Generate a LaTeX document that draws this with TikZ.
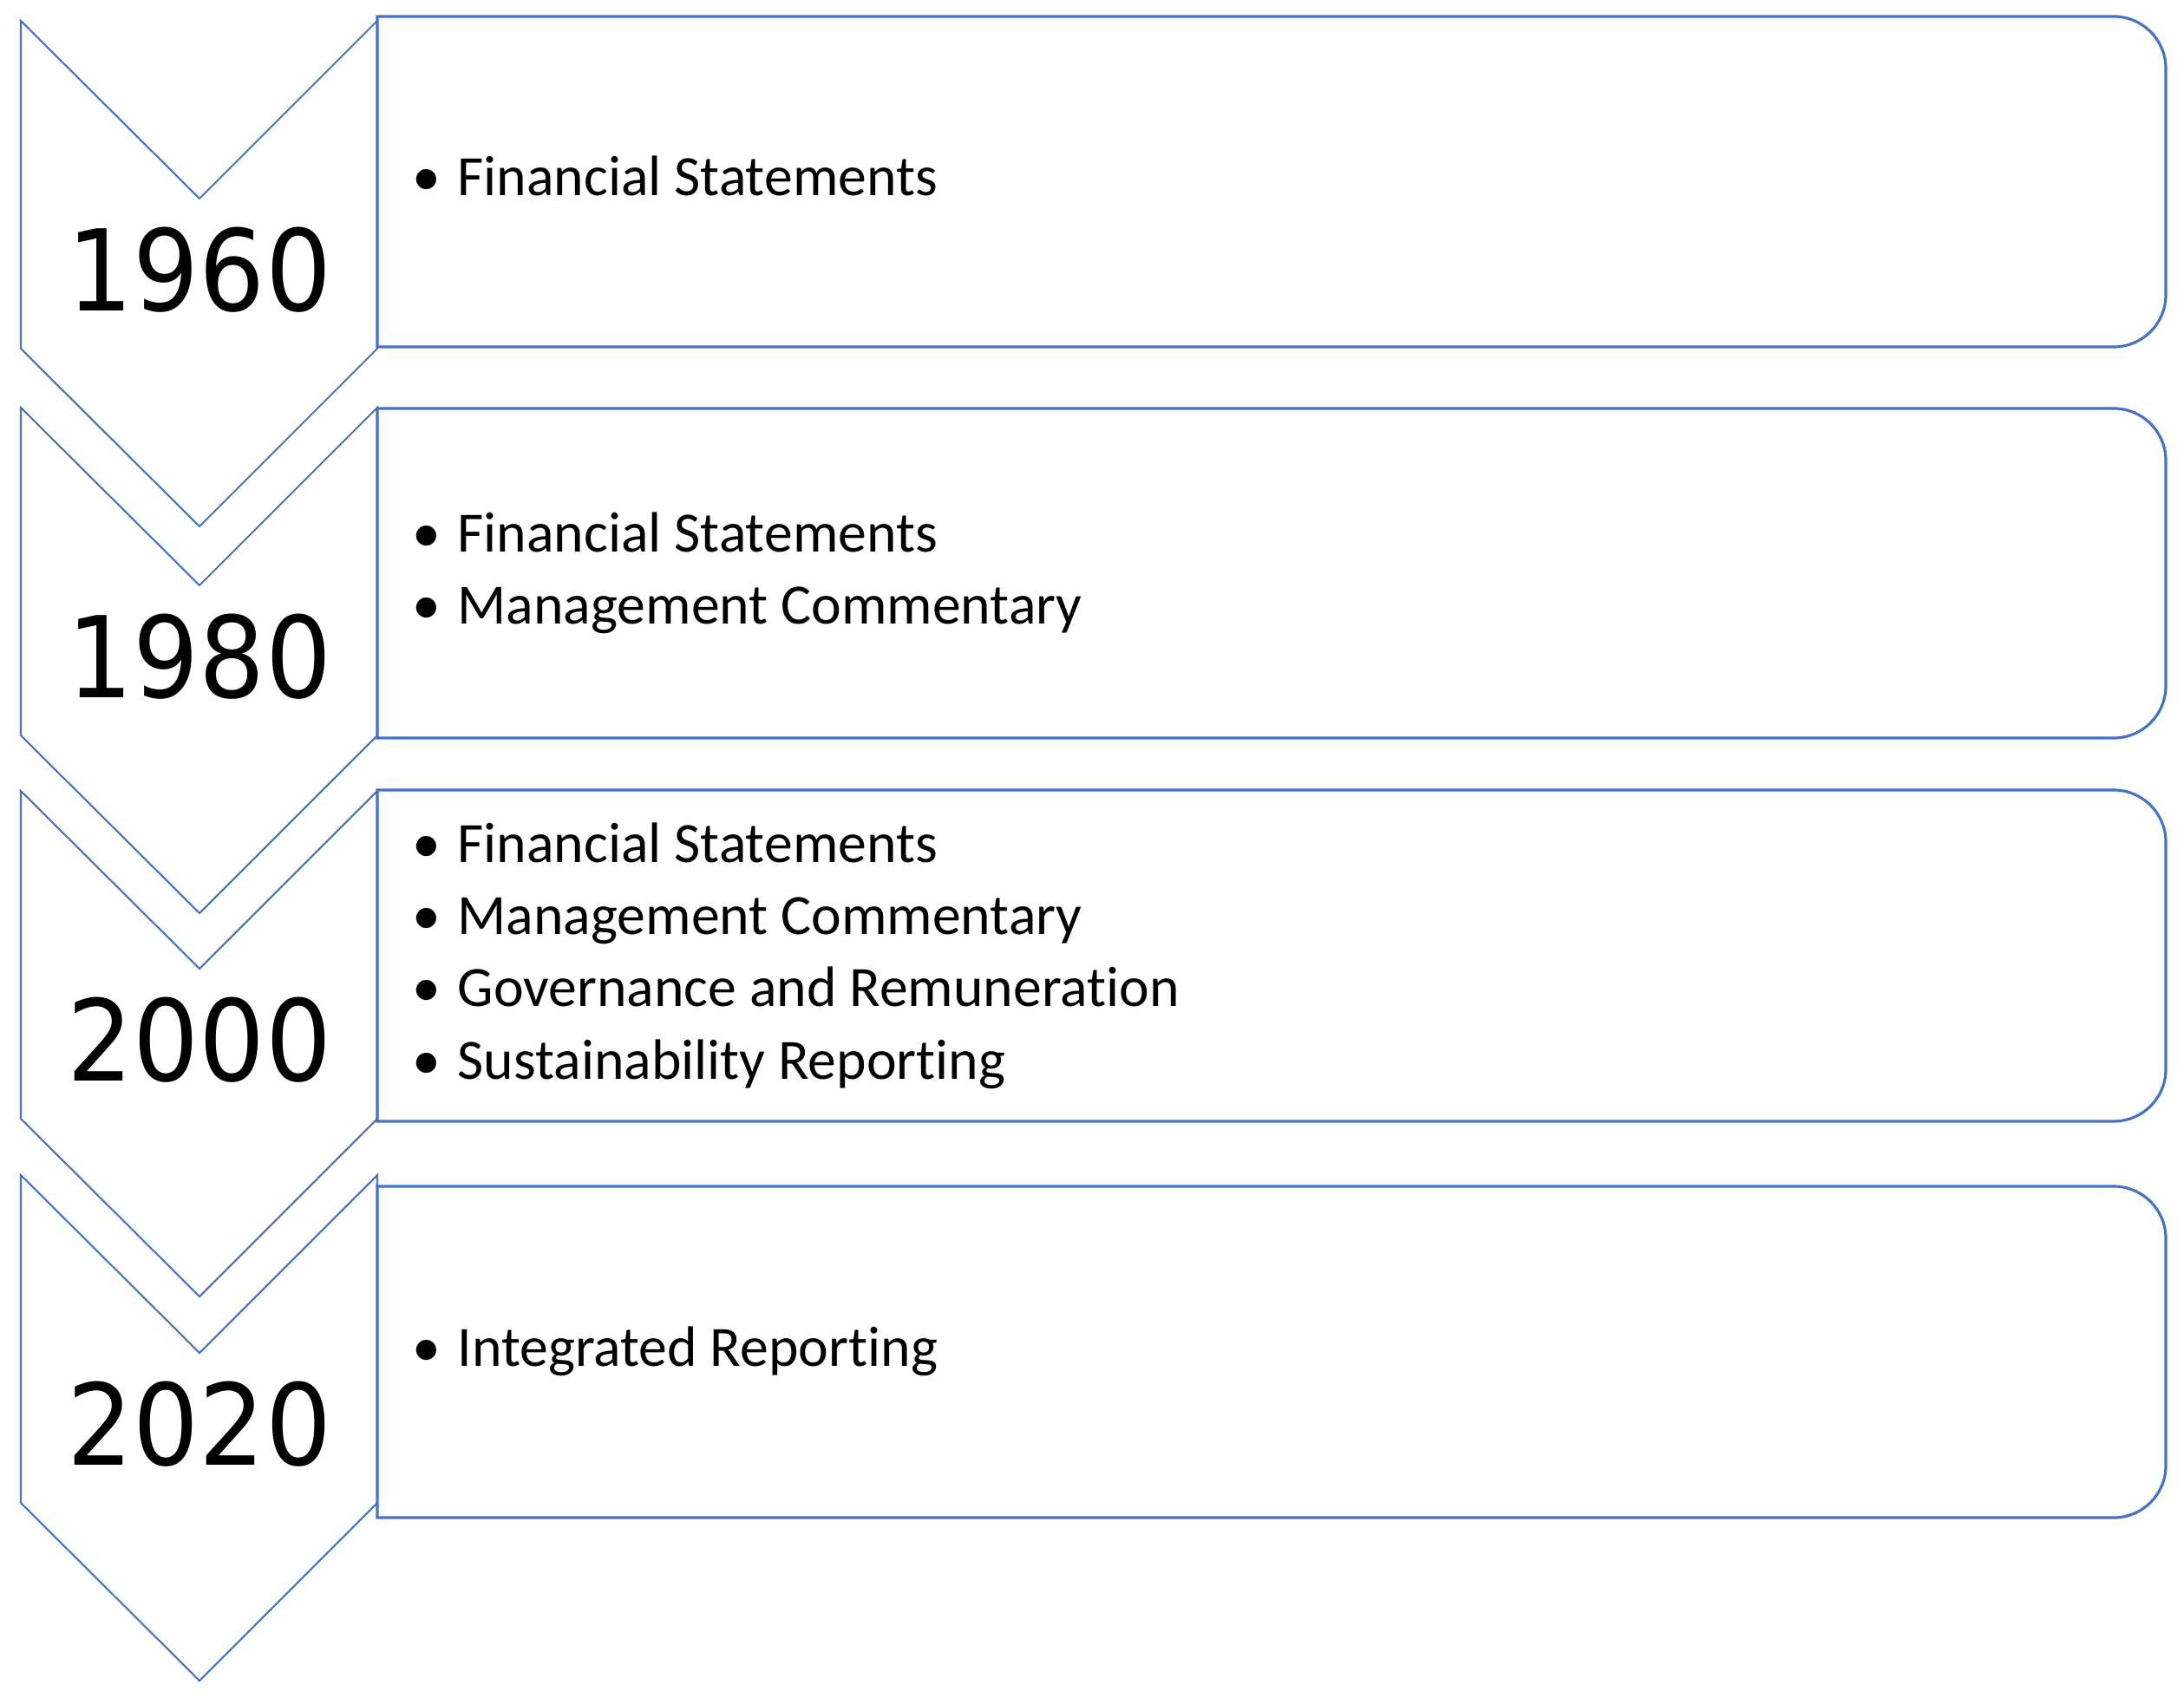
\documentclass[tikz,border=0pt]{standalone}
\usepackage{fontspec}
\setmainfont{Carlito}[Ligatures=NoCommon]
\newfontfamily\yearfont[FakeStretch=0.92]{DejaVu Sans}
\usepackage{xcolor}
\usepackage{tikz}
\usetikzlibrary{positioning}
\usetikzlibrary{calc}
\definecolor{offblue}{HTML}{4472C4}
\tikzset{
  chevron/.style = {draw=offblue, line width=0.6pt, line join=miter},% fleche annee
  entrybox/.style = {draw=offblue, line width=0.9pt},% cadre du texte
  yearlbl/.style = {inner sep=0pt, font=\yearfont\fontsize{37}{40}\selectfont},
  itemlist/.style = {inner sep=0pt, anchor=west, align=left,
    font=\fontsize{18.7}{23.7}\selectfont}
}
\newcommand{\itm}[1]{\makebox[0.52cm][l]{\textbullet}#1}

\begin{document}
\begin{tikzpicture}
\useasboundingbox (0,0) rectangle (25.18,-19.58);
% chevrons, tops in px/100
\foreach \t/\yr in {0.24/1960, 4.70/1980, 9.12/2000, 13.55/2020}{
  \draw [chevron] (0.24,-\t) -- (2.30,-\t-2.05) -- (4.35,-\t)
    -- (4.35,-\t-3.78) -- (2.30,-\t-5.83) -- (0.24,-\t-3.78) -- cycle;
  \node [yearlbl] (y\yr) at (2.30,-\t-2.87) {\yr};
}
% boxes with rounded right side
\foreach \a/\b in {0.19/4.00, 4.71/8.51, 9.11/12.93, 13.68/17.50}{
  \draw [entrybox] (4.35,-\a) -- (24.37,-\a) arc[start angle=90, end angle=0, radius=0.6]
    -- (24.97,-\b+0.6) arc[start angle=0, end angle=-90, radius=0.6]
    -- (4.35,-\b) -- cycle;
}
\node [itemlist] (t1960) at (4.75,-2.03) {\itm{Financial Statements}};
\node [itemlist] (t1980) at (4.75,-6.61) {\itm{Financial Statements}\\
  \itm{Management Commentary}};
\node [itemlist] (t2000) at (4.75,-11.02) {\itm{Financial Statements}\\
  \itm{Management Commentary}\\
  \itm{Governance and Remuneration}\\
  \itm{Sustainability Reporting}};
\node [itemlist] (t2020) at (4.75,-15.58) {\itm{Integrated Reporting}};
\end{tikzpicture}
\end{document}
